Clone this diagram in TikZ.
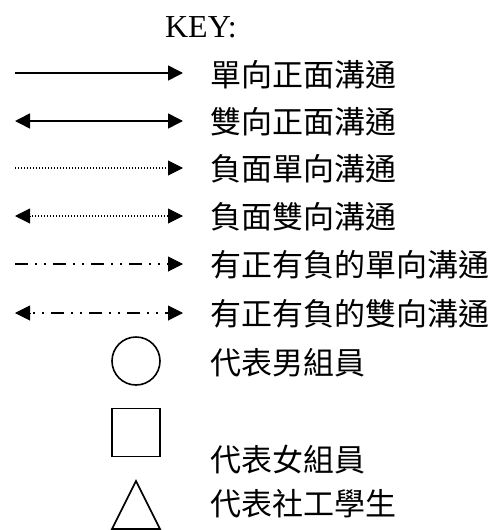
\documentclass[tikz,border=0pt]{standalone}
\usepackage{fontspec}
\setmainfont{Liberation Serif}
\newfontfamily\cjk{Noto Sans CJK TC}
\usetikzlibrary{arrows.meta}
\begin{document}
\begin{tikzpicture}[x=1pt,y=-1pt,
  legline/.style={line width=1.6pt},
  tip/.style={-{Triangle[length=15pt,width=15pt]}},
  bitip/.style={{Triangle[length=15pt,width=15pt]}-{Triangle[length=15pt,width=15pt]}},
  headonly/.style={line width=1pt,-{Triangle[length=15pt,width=15pt]}},
  dotline/.style={line width=1.3pt, dash pattern=on 1.2pt off 1.8pt},
  dashdot/.style={line width=1.6pt, dash pattern=on 13pt off 7pt on 2pt off 7pt on 2pt off 7pt},
  label/.style={anchor=base west, inner sep=0pt, font=\cjk\fontsize{31}{31}\selectfont},
  shapeline/.style={line width=1.6pt}]
\useasboundingbox (0,0) rectangle (499,530);
\node[anchor=base, inner sep=0pt, font=\fontsize{32}{32}\selectfont] (key) at (201,37) {KEY:};
% row coordinates
\foreach \i/\y in {1/73,2/121,3/168,4/216,5/264,6/313}{
  \coordinate (s\i) at (15,\y);
  \coordinate (e\i) at (183,\y);
}
\draw[legline,tip] (s1) -- (e1);
\draw[legline,bitip] (s2) -- (e2);
% row 3
\draw[dotline] (s3) -- ([xshift=-14pt]e3);
\draw[headonly] ([xshift=-15pt]e3) -- (e3);
% row 4
\draw[dotline] ([xshift=14pt]s4) -- ([xshift=-14pt]e4);
\draw[headonly] ([xshift=15pt]s4) -- (s4);
\draw[headonly] ([xshift=-15pt]e4) -- (e4);
% row 5
\draw[dashdot] (s5) -- ([xshift=-14pt]e5);
\draw[headonly] ([xshift=-15pt]e5) -- (e5);
% row 6
\draw[headonly] ([xshift=15pt]s6) -- (s6);
\draw[dashdot, dash phase=17pt] ([xshift=15pt]s6) -- ([xshift=-14pt]e6);
\draw[headonly] ([xshift=-15pt]e6) -- (e6);
\node[label] (t1) at (210,86) {單向正面溝通};
\node[label] (t2) at (210,133) {雙向正面溝通};
\node[label] (t3) at (210,180) {負面單向溝通};
\node[label] (t4) at (210,228) {負面雙向溝通};
\node[label] (t5) at (210,276) {有正有負的單向溝通};
\node[label] (t6) at (210,325) {有正有負的雙向溝通};
\node[label] (t7) at (210,374) {代表男組員};
\node[label] (t8) at (210,471) {代表女組員};
\node[label] (t9) at (210,515) {代表社工學生};
\node[shapeline, draw, circle, minimum size=48pt, inner sep=0pt] (circ) at (136,361) {};
\node[shapeline, draw, minimum size=48pt, inner sep=0pt] (sq) at (136,432.5) {};
\draw[shapeline] (136,481) -- (112,529) -- (160,529) -- cycle;
\end{tikzpicture}
\end{document}
